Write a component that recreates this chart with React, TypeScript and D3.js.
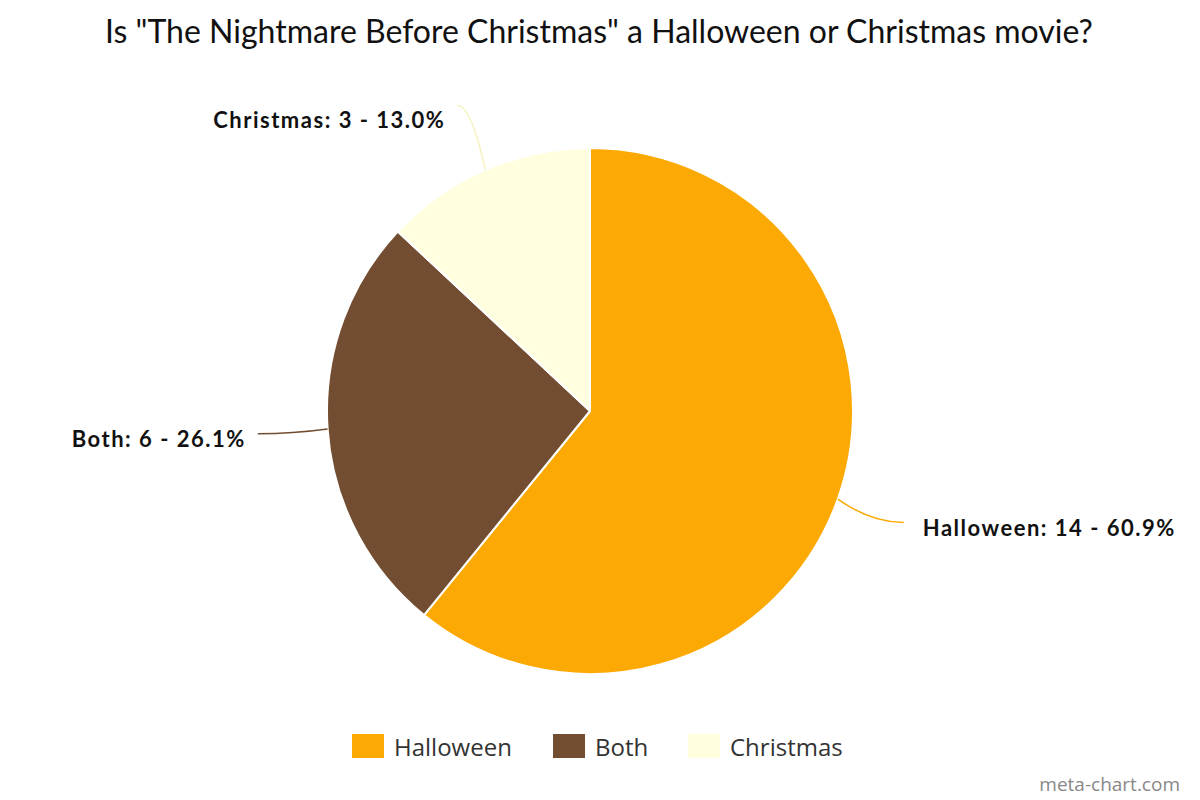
import React, { useEffect, useRef } from 'react';
import * as d3 from 'd3';

const categories = ['Halloween', 'Both', 'Christmas'];
const votes = [14, 6, 3];
const sliceColors = ['#fca903', '#734d31', '#ffffe0'];
const lineColors = ['#fca903', '#734d31', '#f6f3c0'];

const App: React.FC = () => {
  const svgRef = useRef<SVGSVGElement>(null);

  useEffect(() => {
    document.body.style.margin = '0';
    if (!svgRef.current) return;
    const width = 1200;
    const height = 800;
    const svg = d3.select(svgRef.current).attr('width', width).attr('height', height);
    svg.selectAll('*').remove();

    svg.append('rect').attr('width', width).attr('height', height).attr('fill', '#fff');

    // Title
    svg.append('text')
      .attr('x', 599)
      .attr('y', 43)
      .attr('text-anchor', 'middle')
      .attr('font-family', 'Lato')
      .attr('font-size', 32)
      .attr('fill', '#111')
      .text('Is "The Nightmare Before Christmas" a Halloween or Christmas movie?');

    const cx = 590;
    const cy = 411;
    const r = 263;
    const total = d3.sum(votes);

    const data = categories.map((c, i) => ({ name: c, value: votes[i], i }));
    const pie = d3.pie<typeof data[0]>().value(d => d.value).sort(null);
    const arcs = pie(data);
    const arc = d3.arc<d3.PieArcDatum<typeof data[0]>>().innerRadius(0).outerRadius(r);

    const g = svg.append('g').attr('transform', `translate(${cx},${cy})`);

    g.selectAll('path.slice')
      .data(arcs)
      .join('path')
      .attr('class', 'slice')
      .attr('d', arc)
      .attr('fill', d => sliceColors[d.data.i])
      .attr('stroke', '#fff')
      .attr('stroke-width', 2)
      .attr('stroke-linejoin', 'round');

    // Labels + connectors
    const polar = (a: number, rad: number): [number, number] => [rad * Math.sin(a), -rad * Math.cos(a)];

    arcs.forEach(d => {
      const mid = (d.startAngle + d.endAngle) / 2;
      const start = polar(mid, r);
      const end = polar(mid, r + 70);
      const right = end[0] > 0;
      const ctrl: [number, number] = [start[0] + (end[0] - start[0]) * 0.5, end[1]];
      g.append('path')
        .attr('d', `M${start[0]},${start[1]} Q${ctrl[0]},${ctrl[1]} ${end[0]},${end[1]}`)
        .attr('fill', 'none')
        .attr('stroke', lineColors[d.data.i])
        .attr('stroke-width', 1.5);

      const pct = ((d.data.value / total) * 100).toFixed(1);
      const lift = end[1] < -200 ? 15 : 6;
      g.append('text')
        .attr('x', end[0] + (right ? 19 : -12))
        .attr('y', end[1] + lift)
        .attr('dy', '0.35em')
        .attr('text-anchor', right ? 'start' : 'end')
        .attr('font-family', 'Lato')
        .attr('font-weight', 'bold')
        .attr('font-size', 22)
        .attr('letter-spacing', 1.5)
        .attr('fill', '#111')
        .text(`${d.data.name}: ${d.data.value} - ${pct}%`);
    });

    // Legend
    const legendX = [352, 553, 688];
    const legend = svg.append('g');
    categories.forEach((c, i) => {
      legend.append('rect')
        .attr('x', legendX[i])
        .attr('y', 734)
        .attr('width', 32)
        .attr('height', 24)
        .attr('fill', sliceColors[i]);
      legend.append('text')
        .attr('x', legendX[i] + 42)
        .attr('y', 756)
        .attr('font-family', 'Open Sans')
        .attr('font-size', 24)
        .attr('fill', '#333')
        .text(c);
    });

    // Watermark
    svg.append('text')
      .attr('x', 1180)
      .attr('y', 791)
      .attr('text-anchor', 'end')
      .attr('font-family', 'Open Sans')
      .attr('font-size', 19)
      .attr('fill', '#888')
      .text('meta-chart.com');
  }, []);

  return <svg ref={svgRef} style={{ display: 'block' }}></svg>;
};

export default App;
